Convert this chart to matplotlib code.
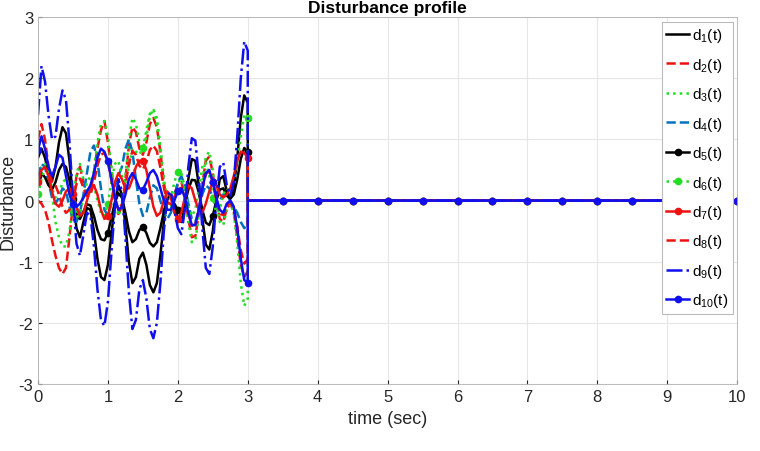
import numpy as np
import matplotlib
matplotlib.use("Agg")
import matplotlib.pyplot as plt

plt.rcParams['font.family'] = ['Liberation Sans', 'DejaVu Sans']
plt.rcParams['mathtext.default'] = 'regular'
plt.rcParams['axes.unicode_minus'] = False

# samples every 0.05 s from 0 to 3 s (61 values per signal)
dt = 0.05
d1 = [0.70, 0.85, 0.70, 0.45, 0.32, 0.55, 0.95, 1.20, 1.10, 0.65,
      0.05, -0.45, -0.60, -0.35, -0.12, -0.15, -0.50, -0.95, -1.25, -1.30,
      -1.05, -0.55, -0.05, 0.25, 0.10, -0.40, -1.00, -1.35, -1.25, -0.95,
      -0.85, -1.05, -1.38, -1.50, -1.35, -0.90, -0.35, 0.05, 0.10, -0.10,
      -0.30, -0.35, -0.10, 0.35, 0.68, 0.65, 0.25, -0.30, -0.72, -0.80,
      -0.50, 0.00, 0.35, 0.40, 0.15, 0.05, 0.20, 0.70, 1.35, 1.72, 1.60]
d2 = [0.00, -0.05, -0.15, -0.35, -0.65, -0.90, -1.10, -1.20, -1.10, -0.60,
      -0.05, 0.40, 0.55, 0.30, 0.10, 0.15, 0.45, 0.85, 1.15, 1.30,
      0.95, 0.50, 0.05, -0.22, -0.10, 0.35, 0.90, 1.20, 1.12, 0.85,
      0.75, 0.95, 1.25, 1.35, 1.20, 0.80, 0.30, -0.05, -0.10, 0.10,
      0.27, 0.30, 0.10, -0.30, -0.60, -0.58, -0.22, 0.27, 0.65, 0.72,
      0.45, 0.00, -0.30, -0.35, -0.13, -0.05, -0.18, -0.60, -1.05, -1.25, -1.15]
d3 = [0.30, 0.55, 0.60, 0.45, 0.10, -0.35, -0.60, -0.75, -0.75, -0.50,
      -0.05, 0.45, 0.60, 0.35, 0.12, 0.15, 0.50, 0.95, 1.25, 1.30,
      1.05, 0.55, 0.05, -0.25, -0.10, 0.40, 1.00, 1.35, 1.25, 0.95,
      0.85, 1.05, 1.38, 1.50, 1.35, 0.90, 0.35, -0.05, -0.10, 0.10,
      0.30, 0.35, 0.10, -0.35, -0.68, -0.65, -0.25, 0.30, 0.72, 0.80,
      0.50, 0.00, -0.35, -0.40, -0.15, -0.05, -0.20, -0.70, -1.35, -1.72, -1.60]
d4 = [0.40, 0.60, 0.55, 0.30, 0.05, -0.05, 0.05, 0.20, 0.15, -0.10,
      -0.30, -0.35, -0.20, 0.10, 0.45, 0.80, 0.90, 0.65, 0.20, -0.15,
      -0.25, -0.05, 0.25, 0.40, 0.55, 0.85, 1.00, 0.80, 0.35, -0.05,
      -0.25, -0.20, 0.05, 0.25, 0.20, 0.00, -0.20, -0.30, -0.20, 0.05,
      0.30, 0.40, 0.25, -0.05, -0.30, -0.35, -0.15, 0.10, 0.25, 0.20,
      0.05, -0.05, 0.00, 0.10, 0.10, 0.00, -0.10, -0.20, -0.35, -0.45, -0.40]
d5 = [0.40, 0.45, 0.38, 0.25, 0.18, 0.30, 0.50, 0.60, 0.55, 0.33,
      0.03, -0.22, -0.30, -0.18, -0.06, -0.08, -0.25, -0.48, -0.63, -0.65,
      -0.53, -0.28, -0.03, 0.12, 0.05, -0.20, -0.50, -0.68, -0.63, -0.48,
      -0.43, -0.53, -0.69, -0.75, -0.68, -0.45, -0.18, 0.03, 0.05, -0.05,
      -0.15, -0.18, -0.05, 0.18, 0.34, 0.33, 0.13, -0.15, -0.36, -0.40,
      -0.25, 0.00, 0.18, 0.20, 0.08, 0.03, 0.10, 0.35, 0.68, 0.86, 0.80]
d6 = [0.10, 0.35, 0.55, 0.45, 0.20, 0.05, 0.10, 0.30, 0.35, 0.15,
      -0.15, -0.30, -0.20, 0.05, 0.30, 0.40, 0.25, 0.00, -0.20, -0.25,
      -0.05, 0.30, 0.60, 0.65, 0.40, 0.30, 0.55, 0.85, 0.80, 0.75,
      0.86, 1.15, 1.42, 1.48, 1.25, 0.75, 0.25, -0.05, 0.05, 0.30,
      0.47, 0.45, 0.20, -0.10, -0.25, -0.15, 0.20, 0.55, 0.62, 0.40,
      0.05, -0.20, -0.15, 0.10, 0.20, 0.15, 0.25, 0.60, 1.05, 1.40, 1.35]
d7 = [0.30, 0.50, 0.55, 0.40, 0.15, -0.05, -0.10, 0.00, 0.15, 0.20,
      0.10, -0.10, -0.25, -0.20, 0.00, 0.20, 0.25, 0.10, -0.15, -0.30,
      -0.25, 0.00, 0.30, 0.45, 0.35, 0.20, 0.20, 0.35, 0.55, 0.65,
      0.65, 0.50, 0.20, -0.10, -0.25, -0.20, 0.00, 0.15, 0.05, -0.20,
      -0.30, -0.20, 0.05, 0.25, 0.20, 0.00, -0.15, -0.20, -0.05, 0.15,
      0.30, 0.25, 0.10, 0.05, 0.10, 0.20, 0.40, 0.65, 0.80, 0.78, 0.70]
d8 = [1.00, 1.25, 1.00, 0.55, 0.30, 0.25, 0.10, -0.10, -0.20, -0.15,
      -0.02, 0.27, 0.36, 0.21, 0.07, 0.09, 0.30, 0.57, 0.75, 0.78,
      0.63, 0.33, 0.03, -0.15, -0.06, 0.24, 0.60, 0.81, 0.75, 0.57,
      0.51, 0.63, 0.83, 0.90, 0.81, 0.54, 0.21, -0.03, -0.06, 0.06,
      0.18, 0.21, 0.06, -0.21, -0.41, -0.39, -0.15, 0.18, 0.43, 0.48,
      0.30, 0.00, -0.21, -0.24, -0.09, -0.03, -0.12, -0.42, -0.81, -1.03, -0.96]
d9 = [1.40, 2.20, 1.95, 1.40, 1.00, 1.05, 1.50, 1.80, 1.65, 0.95,
      0.05, -0.70, -0.90, -0.55, -0.20, -0.25, -0.75, -1.45, -1.95, -2.05,
      -1.65, -0.85, -0.10, 0.35, 0.15, -0.60, -1.50, -2.10, -1.95, -1.45,
      -1.30, -1.60, -2.10, -2.25, -2.00, -1.35, -0.50, 0.08, 0.15, -0.15,
      -0.45, -0.55, -0.15, 0.55, 1.02, 0.98, 0.38, -0.45, -1.10, -1.20,
      -0.75, 0.00, 0.55, 0.62, 0.25, 0.08, 0.30, 1.05, 2.00, 2.60, 2.45]
d10 = [0.83, 1.05, 0.85, 0.55, 0.40, 0.55, 0.75, 0.70, 0.40, 0.10,
       -0.05, -0.10, -0.05, 0.05, 0.15, 0.25, 0.45, 0.70, 0.85, 0.80,
       0.64, 0.35, 0.05, -0.15, -0.10, 0.10, 0.35, 0.45, 0.35, 0.20,
       0.18, 0.30, 0.45, 0.50, 0.40, 0.20, 0.00, -0.15, -0.15, 0.00,
       0.15, 0.20, 0.05, -0.20, -0.40, -0.40, -0.15, 0.20, 0.45, 0.50,
       0.30, 0.05, -0.15, -0.20, -0.05, 0.00, -0.10, -0.45, -0.95, -1.30, -1.34]

# after 3 s every disturbance is switched off
tail_t = [3.0, 3.5, 4.0, 4.5, 5.0, 5.5, 6.0, 6.5, 7.0, 7.5, 8.0, 8.5, 9.0, 9.5, 10.0]
tail_val = [0.0] * len(tail_t)

signals = [d1, d2, d3, d4, d5, d6, d7, d8, d9, d10]
labels = ['d$_{%d}$(t)' % (i + 1) for i in range(10)]

green = '#22dd22'
styles = [
    dict(color='k', ls='-'),
    dict(color='#ee1111', ls='--'),
    dict(color=green, ls=':'),
    dict(color=(0, 0.447, 0.741), ls='--'),
    dict(color='k', ls='-', marker='o'),
    dict(color=green, ls=':', marker='o'),
    dict(color='#ee1111', ls='-', marker='o'),
    dict(color='#ee1111', ls='--'),
    dict(color='#1010ee', ls='-.'),
    dict(color='#1010ee', ls='-', marker='o'),
]

n = len(d1)
t = np.concatenate([np.arange(n) * dt, tail_t])
mark_idx = list(range(0, n, 10)) + list(range(n + 1, n + len(tail_t)))

fig = plt.figure(figsize=(7.6, 4.52), dpi=100)
ax = fig.add_axes([0.05, 0.148, 0.92, 0.812])

for d, st, lab in zip(signals, styles, labels):
    y = np.concatenate([d, tail_val])
    kw = dict(st)
    if 'marker' in kw:
        kw['markevery'] = mark_idx
        kw['markersize'] = 4.5
    ax.plot(t, y, lw=1.8, label=lab, **kw)

ax.set_xlim(0, 10)
ax.set_ylim(-3, 3)
ax.set_xticks(range(0, 11))
ax.set_yticks(range(-3, 4))
ax.grid(True, color='#e6e6e6', lw=0.8)
ax.tick_params(labelsize=12, direction='in', length=3, colors='#262626')
for sp in ax.spines.values():
    sp.set_color('#b0b0b0')
    sp.set_linewidth(0.6)

ax.set_xlabel('time (sec)', fontsize=13, color='#262626')
ax.set_ylabel('Disturbance', fontsize=13, color='#262626')
ax.yaxis.set_label_coords(-0.031, 0.5)
ax.set_title('Disturbance profile', fontsize=12.5, fontweight='bold', pad=4)

leg = ax.legend(loc='upper right', fontsize=11, handlelength=1.5,
                handletextpad=0.15, labelspacing=0.75, borderpad=0.3,
                borderaxespad=0.3, fancybox=False, framealpha=1,
                edgecolor='#bbbbbb')
leg.get_frame().set_linewidth(0.8)

fig.savefig('out.png', dpi=100)
